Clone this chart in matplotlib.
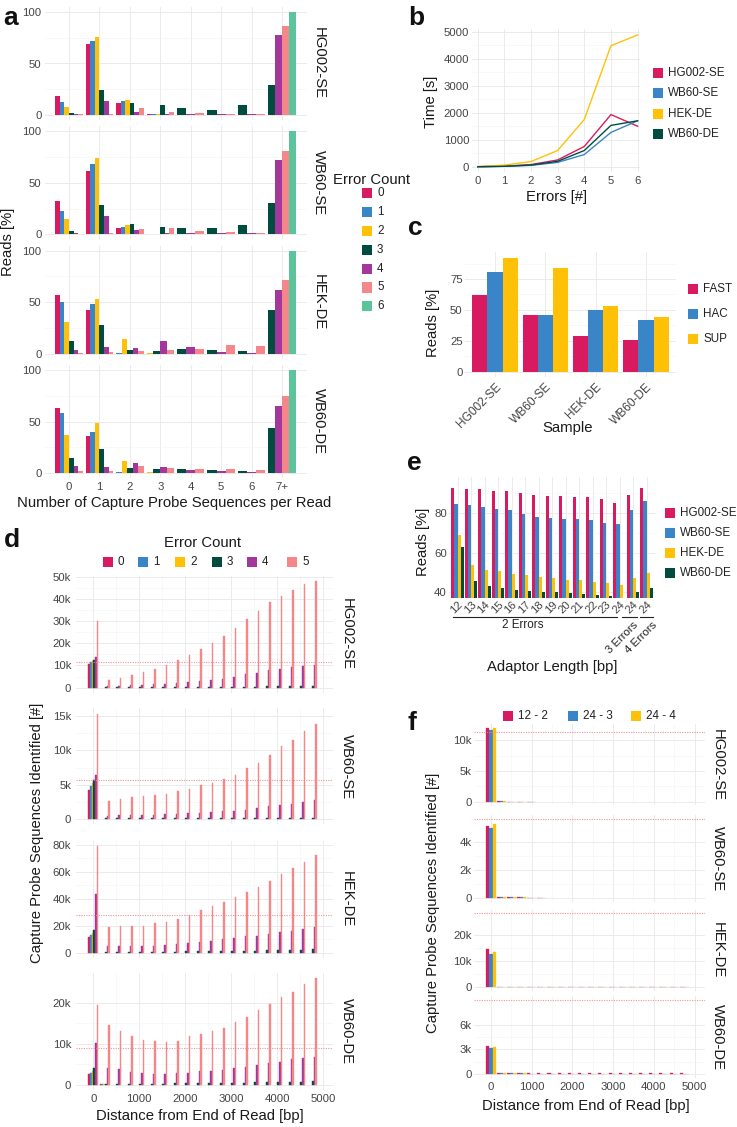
import matplotlib
matplotlib.use('Agg')
import matplotlib.pyplot as plt
from matplotlib.patches import Rectangle
from matplotlib.transforms import blended_transform_factory

W, H = 737, 1127
plt.rcParams['font.family'] = ['Liberation Sans', 'DejaVu Sans']
fig = plt.figure(figsize=(W / 100, H / 100), dpi=100)

COL = ['#D81B60', '#3A85C8', '#FFC107', '#004D40', '#A4379C', '#F4878A', '#5CC49A']
GRID_MAJ = '#EBEBEB'
GRID_MIN = '#F4F4F4'
TICK_C = '#444444'
TXT = '#1A1A1A'
TICK_FS = 8.2
TITLE_FS = 10.7
LEG_FS = 8.4
STRIP_FS = 10.7

# ---------------- DATA ----------------
samples = ['HG002-SE', 'WB60-SE', 'HEK-DE', 'WB60-DE']

# Panel a: % reads per number of capture probe sequences, per error count
a_categories = ['0', '1', '2', '3', '4', '5', '6', '7+']
a_error_counts = ['0', '1', '2', '3', '4', '5', '6']
a_hg002 = [
    [18, 69, 12, 1, 0, 0, 0, 0],
    [13, 72, 14, 1, 0, 0, 0, 0],
    [8, 76, 15, 1, 0, 0, 0, 0],
    [2, 24, 12, 10, 7, 5, 10, 29],
    [1, 14, 3, 0.5, 1, 1, 1, 78],
    [0.5, 0.5, 7, 3, 2, 1, 1, 86],
    [0, 0, 0, 0, 0, 0, 0, 100],
]
a_wb60se = [
    [32, 61, 6, 0.5, 0, 0, 0, 0],
    [23, 68, 7, 0.5, 0, 0, 0, 0],
    [15, 74, 9, 0.5, 0, 0, 0, 0],
    [3, 28, 10, 7, 6, 6, 9, 30],
    [1, 18, 4, 1, 1.5, 1, 1, 72],
    [0.5, 1, 5, 6, 3, 2, 1, 81],
    [0, 0, 0, 0, 0, 0, 0, 100],
]
a_hek = [
    [57, 42, 0, 0, 0, 0, 0, 0],
    [50, 48, 1, 0, 0, 0, 0, 0],
    [31, 53, 14, 0.3, 0, 0, 0, 0],
    [12, 28, 4, 3, 4.5, 4, 3, 42],
    [4, 6.5, 5.5, 12, 6.5, 2, 1, 62],
    [0.6, 1.3, 2.3, 4, 5, 8.5, 7, 72],
    [0, 0, 0, 0, 0, 0, 0, 100],
]
a_wb60de = [
    [63, 36, 0, 0, 0, 0, 0, 0],
    [58, 40, 1, 0, 0, 0, 0, 0],
    [37, 49, 12, 0.5, 0, 0, 0, 0],
    [15, 23, 5, 4, 3.5, 3, 2, 44],
    [7, 6, 10, 5.5, 3, 2, 1, 65],
    [2, 2, 7, 5, 3.5, 4, 2.5, 75],
    [0, 0, 0, 0, 0, 0, 0, 100],
]
a_data = [a_hg002, a_wb60se, a_hek, a_wb60de]

# Panel b: run time vs errors
b_errors = [0, 1, 2, 3, 4, 5, 6]
b_hg002 = [0, 20, 80, 250, 750, 1930, 1500]
b_wb60se = [0, 15, 50, 160, 450, 1270, 1700]
b_hek = [0, 60, 190, 600, 1750, 4480, 4880]
b_wb60de = [0, 15, 60, 200, 600, 1530, 1700]
b_times = [b_hg002, b_wb60se, b_hek, b_wb60de]

# Panel c: reads per basecalling model
c_models = ['FAST', 'HAC', 'SUP']
c_fast = [62, 46, 29, 26]
c_hac = [81, 46, 50, 42]
c_sup = [92, 84, 53, 44]

# Panel e: reads per adaptor length
e_lengths = ['12', '13', '14', '15', '16', '17', '18', '19', '20', '21', '22', '23', '24', '24', '24']
e_hg002 = [92.3, 92.1, 91.8, 91.1, 90.8, 90.1, 89.1, 88.4, 88.3, 88.1, 87.8, 87.1, 84.8, 89.1, 92.3]
e_wb60se = [84.4, 83.7, 83.0, 81.7, 81.2, 79.5, 78.0, 77.2, 76.8, 76.7, 76.3, 74.7, 74.5, 81.4, 85.9]
e_hek = [68.8, 53.7, 51.2, 50.7, 49.2, 48.5, 47.7, 47.2, 46.3, 46.0, 45.3, 44.8, 43.5, 47.2, 49.8]
e_wb60de = [62.9, 45.8, 43.3, 42.3, 41.3, 40.8, 40.3, 40.0, 39.5, 39.1, 38.6, 38.3, 37.0, 40.1, 42.3]
e_values = [e_hg002, e_wb60se, e_hek, e_wb60de]

# Panels d / f: distance bins (bp)
bins = [0, 250, 500, 750, 1000, 1250, 1500, 1750, 2000, 2250,
        2500, 2750, 3000, 3250, 3500, 3750, 4000, 4250, 4500, 4750]
ref_lines = [11.4, 5.65, 28.1, 9.0]  # thousands

# Panel d: counts (thousands) per error count 0..5
d_hg002 = [
    [10.8, 0, 0, 0, 0, 0, 0, 0, 0, 0, 0, 0, 0, 0, 0, 0, 0, 0, 0, 0],
    [11.5, 0, 0, 0, 0, 0, 0, 0, 0, 0, 0, 0, 0, 0, 0, 0, 0, 0, 0, 0],
    [12.1, 0, 0, 0, 0, 0, 0, 0, 0, 0, 0, 0, 0, 0, 0, 0, 0, 0, 0, 0],
    [12.6, 0.1, 0.1, 0.1, 0.15, 0.2, 0.2, 0.25, 0.3, 0.3, 0.35, 0.4, 0.4, 0.5, 0.5, 0.6, 0.6, 0.7, 0.7, 0.8],
    [13.9, 0.8, 0.9, 1.1, 1.2, 1.5, 1.8, 2.3, 2.6, 3.0, 3.6, 4.1, 5.0, 6.1, 6.8, 8.0, 8.4, 9.1, 9.6, 10.0],
    [29.9, 3.5, 4.5, 5.6, 7.1, 8.6, 10.3, 12.6, 14.9, 17.6, 20.3, 23.2, 27.0, 30.8, 34.4, 38.4, 41.2, 44.0, 46.5, 48.0],
]
d_wb60se = [
    [4.2, 0, 0, 0, 0, 0, 0, 0, 0, 0, 0, 0, 0, 0, 0, 0, 0, 0, 0, 0],
    [4.8, 0, 0, 0, 0, 0, 0, 0, 0, 0, 0, 0, 0, 0, 0, 0, 0, 0, 0, 0],
    [5.2, 0, 0, 0, 0, 0, 0, 0, 0, 0, 0, 0, 0, 0, 0, 0, 0, 0, 0, 0],
    [5.7, 0.05, 0.05, 0.05, 0.05, 0.05, 0.06, 0.07, 0.08, 0.09, 0.1, 0.1, 0.11, 0.12, 0.13, 0.14, 0.15, 0.16, 0.17, 0.18],
    [6.4, 0.39, 0.54, 0.54, 0.54, 0.54, 0.64, 0.64, 0.79, 0.88, 0.98, 1.07, 1.17, 1.3, 1.6, 1.8, 2.0, 2.2, 2.5, 2.7],
    [15.4, 2.6, 2.9, 3.2, 3.4, 3.45, 3.6, 4.0, 4.4, 4.9, 5.2, 5.8, 6.4, 7.4, 8.2, 9.3, 10.6, 11.6, 12.8, 13.9],
]
d_hek = [
    [11.4, 0, 0, 0, 0, 0, 0, 0, 0, 0, 0, 0, 0, 0, 0, 0, 0, 0, 0, 0],
    [12.9, 0, 0, 0, 0, 0, 0, 0, 0, 0, 0, 0, 0, 0, 0, 0, 0, 0, 0, 0],
    [14.4, 0, 0, 0, 0, 0, 0, 0, 0, 0, 0, 0, 0, 0, 0, 0, 0, 0, 0, 0],
    [16.6, 0.5, 0.5, 0.5, 0.6, 0.6, 0.7, 0.8, 0.9, 1.0, 1.1, 1.2, 1.3, 1.4, 1.6, 1.7, 1.9, 2.0, 2.2, 2.4],
    [43.6, 5.0, 5.0, 5.0, 5.0, 5.0, 5.7, 6.2, 7.2, 7.9, 8.9, 9.9, 10.9, 12.2, 12.7, 13.9, 15.4, 16.4, 17.6, 19.3],
    [78.8, 18.8, 19.8, 19.8, 20.1, 21.8, 23.1, 24.8, 28.0, 31.5, 34.7, 37.4, 41.1, 45.1, 48.6, 53.0, 58.0, 62.4, 67.4, 72.1],
]
d_wb60de = [
    [2.7, 0.1, 0, 0, 0, 0, 0, 0, 0, 0, 0, 0, 0, 0, 0, 0, 0, 0, 0, 0],
    [3.0, 0.1, 0, 0, 0, 0, 0, 0, 0, 0, 0, 0, 0, 0, 0, 0, 0, 0, 0, 0],
    [3.3, 0.1, 0, 0, 0, 0, 0, 0, 0, 0, 0, 0, 0, 0, 0, 0, 0, 0, 0, 0],
    [4.0, 0.3, 0.3, 0.3, 0.3, 0.3, 0.3, 0.35, 0.4, 0.4, 0.45, 0.5, 0.5, 0.55, 0.6, 0.65, 0.7, 0.75, 0.8, 0.85],
    [10.2, 4.1, 3.8, 3.1, 2.8, 2.6, 2.6, 2.8, 3.0, 3.4, 3.4, 3.6, 4.1, 4.3, 4.8, 5.3, 5.6, 6.2, 6.6, 6.9],
    [19.4, 14.6, 13.2, 11.9, 10.9, 10.6, 10.5, 10.8, 11.9, 12.4, 13.1, 13.9, 15.4, 16.6, 18.3, 19.8, 21.3, 22.6, 24.5, 26.0],
]
d_data = [d_hg002, d_wb60se, d_hek, d_wb60de]
d_ticks = [[0, 10, 20, 30, 40, 50], [0, 5, 10, 15], [0, 20, 40, 60, 80], [0, 10, 20]]

# Panel f: counts (thousands) per adaptor setting
f_settings = ['12 - 2', '24 - 3', '24 - 4']
f_hg002 = [
    [12.05, 0.05, 0.02, 0.01, 0.01, 0, 0, 0, 0, 0, 0, 0, 0, 0, 0, 0, 0, 0, 0, 0],
    [11.7, 0.05, 0.02, 0.01, 0.01, 0, 0, 0, 0, 0, 0, 0, 0, 0, 0, 0, 0, 0, 0, 0],
    [12.05, 0.05, 0.02, 0.01, 0.01, 0, 0, 0, 0, 0, 0, 0, 0, 0, 0, 0, 0, 0, 0, 0],
]
f_wb60se = [
    [5.14, 0.05, 0.03, 0.02, 0.01, 0.01, 0, 0, 0, 0, 0, 0, 0, 0, 0, 0, 0, 0, 0, 0],
    [4.98, 0.05, 0.03, 0.02, 0.01, 0.01, 0, 0, 0, 0, 0, 0, 0, 0, 0, 0, 0, 0, 0, 0],
    [5.26, 0.05, 0.03, 0.02, 0.01, 0.01, 0, 0, 0, 0, 0, 0, 0, 0, 0, 0, 0, 0, 0, 0],
]
f_hek = [
    [14.5, 0.3, 0.3, 0.3, 0.3, 0.3, 0.3, 0.3, 0.3, 0.3, 0.3, 0.3, 0.3, 0.3, 0.3, 0.3, 0.3, 0.3, 0.3, 0.3],
    [12.7, 0.2, 0.1, 0.05, 0.05, 0.03, 0.03, 0.02, 0.02, 0.02, 0.02, 0.02, 0.02, 0.02, 0.02, 0.02, 0.02, 0.02, 0.02, 0.02],
    [13.5, 0.2, 0.1, 0.05, 0.05, 0.03, 0.03, 0.02, 0.02, 0.02, 0.02, 0.02, 0.02, 0.02, 0.02, 0.02, 0.02, 0.02, 0.02, 0.02],
]
f_wb60de = [
    [3.42, 0.2, 0.2, 0.15, 0.15, 0.15, 0.15, 0.15, 0.15, 0.15, 0.15, 0.15, 0.15, 0.15, 0.15, 0.15, 0.15, 0.15, 0.15, 0.15],
    [3.14, 0.2, 0.2, 0.1, 0.05, 0.05, 0.03, 0.03, 0.02, 0.02, 0.02, 0.02, 0.02, 0.02, 0.02, 0.02, 0.02, 0.02, 0.02, 0.02],
    [3.26, 0.2, 0.15, 0.1, 0.05, 0.05, 0.03, 0.03, 0.02, 0.02, 0.02, 0.02, 0.02, 0.02, 0.02, 0.02, 0.02, 0.02, 0.02, 0.02],
]
f_data = [f_hg002, f_wb60se, f_hek, f_wb60de]
f_ticks = [[0, 5, 10], [0, 2, 4], [0, 10, 20], [0, 3, 6]]
dist_ticks = [0, 1000, 2000, 3000, 4000, 5000]


# ---------------- HELPERS ----------------
def px_axes(x0, y0, x1, y1):
    ax = fig.add_axes([x0 / W, 1 - y1 / H, (x1 - x0) / W, (y1 - y0) / H])
    for s in ax.spines.values():
        s.set_visible(False)
    ax.set_axisbelow(True)
    ax.tick_params(which='both', length=0, labelsize=TICK_FS, labelcolor=TICK_C)
    ax.patch.set_alpha(0)
    return ax


def set_grid(ax):
    ax.grid(True, which='major', color=GRID_MAJ, lw=0.7)
    ax.grid(True, which='minor', color=GRID_MIN, lw=0.45)


def px_text(x, y, s, **kw):
    kw.setdefault('color', TXT)
    return fig.text(x / W, 1 - y / H, s, **kw)


def key(x, y, color, label, size=10, fs=LEG_FS):
    fig.add_artist(Rectangle((x / W, 1 - (y + size / 2) / H), size / W, size / H,
                             transform=fig.transFigure, facecolor=color, edgecolor='none'))
    px_text(x + size + 5, y, label, fontsize=fs, va='center', ha='left', color='#222222')


def panel_label(x, y, s):
    px_text(x, y, s, fontsize=19, fontweight='bold', va='baseline', ha='left', color='#111111')


def kfmt(v):
    return '0' if v == 0 else f'{v:g}k'


def dodge_present(ax, series, colors, width=0.9):
    ncat = len(series[0])
    for ci in range(ncat):
        present = [(si, s[ci]) for si, s in enumerate(series) if s[ci] > 0]
        n = len(present)
        if n == 0:
            continue
        bw = width / n
        for j, (si, v) in enumerate(present):
            ax.bar(ci - width / 2 + bw * (j + 0.5), v, width=bw, color=colors[si], linewidth=0)


def dodge_fixed(ax, x, series, colors, total, edge=0.0):
    n = len(series)
    bw = total / n
    for j, vals in enumerate(series):
        xs = [xi - total / 2 + bw * (j + 0.5) for xi, v in zip(x, vals) if v > 0]
        vs = [v for v in vals if v > 0]
        ax.bar(xs, vs, width=bw, color=colors[j],
               edgecolor=colors[j] if edge > 0 else 'none', linewidth=edge)


# ---------------- PANEL A ----------------
a_zero = [115.0, 234.3, 353.7, 473.0]
A_PX = 1.03
for i, samp in enumerate(samples):
    z = a_zero[i]
    ax = px_axes(45, z - 105 * A_PX, 307, z + 5 * A_PX)
    dodge_present(ax, a_data[i], COL)
    ax.set_xlim(-0.79, 7.82)
    ax.set_ylim(-5, 105)
    ax.set_xticks(range(len(a_categories)))
    ax.set_yticks([0, 50, 100])
    ax.set_yticks([25, 75], minor=True)
    set_grid(ax)
    ax.tick_params(axis='y', pad=2.6)
    ax.tick_params(axis='x', pad=3.0)
    if i == 3:
        ax.set_xticklabels(a_categories)
    else:
        ax.set_xticklabels([])
    px_text(319, z - 50 * A_PX, samp, rotation=-90, fontsize=STRIP_FS, ha='center', va='center')

px_text(8, 242, 'Reads [%]', rotation=90, fontsize=TITLE_FS, ha='center', va='center')
px_text(174, 503, 'Number of Capture Probe Sequences per Read', fontsize=TITLE_FS, ha='center', va='center')
px_text(333, 180, 'Error Count', fontsize=TITLE_FS, ha='left', va='center')
for j, lab in enumerate(a_error_counts):
    key(362, 193 + j * 18.9, COL[j], lab)
panel_label(3, 25, 'a')

# ---------------- PANEL B ----------------
ax = px_axes(472, 28.5, 640, 172)
for j, vals in enumerate(b_times):
    ax.plot(b_errors, vals, color=COL[j], lw=1.0)
ax.set_xlim(-0.215, 6.09)
ax.set_ylim(-196, 5118)
ax.set_xticks(b_errors)
ax.set_yticks([0, 1000, 2000, 3000, 4000, 5000])
ax.set_yticks([500, 1500, 2500, 3500, 4500], minor=True)
set_grid(ax)
ax.tick_params(axis='y', pad=2.0)
ax.tick_params(axis='x', pad=3.0)
px_text(431, 102, 'Time [s]', rotation=90, fontsize=TITLE_FS, ha='center', va='center')
px_text(557, 197, 'Errors [#]', fontsize=TITLE_FS, ha='center', va='center')
for j, lab in enumerate(samples):
    key(653, 73 + j * 20.3, COL[j], lab)
panel_label(408, 25, 'b')

# ---------------- PANEL C ----------------
ax = px_axes(464.8, 252.3, 676.2, 377.4)
dodge_fixed(ax, list(range(len(samples))), [c_fast, c_hac, c_sup], COL[:3], 0.9)
ax.set_xlim(-0.6, 3.6)
ax.set_ylim(-4.6, 96.6)
ax.set_xticks(range(len(samples)))
ax.set_xticklabels(samples)
plt.setp(ax.get_xticklabels(), rotation=45, ha='right', va='top', rotation_mode='anchor', fontsize=8.6)
ax.set_yticks([0, 25, 50, 75])
ax.set_yticks([12.5, 37.5, 62.5, 87.5], minor=True)
set_grid(ax)
ax.tick_params(axis='y', pad=1.5)
ax.tick_params(axis='x', pad=2.5)
px_text(433, 323, 'Reads [%]', rotation=90, fontsize=TITLE_FS, ha='center', va='center')
px_text(568, 428, 'Sample', fontsize=TITLE_FS, ha='center', va='center')
for j, lab in enumerate(c_models):
    key(688, 289 + j * 25, COL[j], lab)
panel_label(408, 235, 'c')

# ---------------- PANEL E ----------------
ax = px_axes(449.4, 477.4, 654.6, 597.8)
dodge_fixed(ax, list(range(len(e_lengths))), e_values, COL[:4], 0.9)
ax.set_xlim(-0.6, 14.6)
ax.set_ylim(37.25, 97.75)
ax.set_xticks(range(len(e_lengths)))
ax.set_xticklabels(e_lengths)
plt.setp(ax.get_xticklabels(), rotation=45, ha='right', va='top', rotation_mode='anchor', fontsize=8.2)
ax.set_yticks([40, 60, 80])
ax.set_yticks([50, 70, 90], minor=True)
set_grid(ax)
ax.tick_params(axis='y', pad=1.8)
ax.tick_params(axis='x', pad=1.0)
tr = blended_transform_factory(ax.transData, ax.transAxes)
yb = -(617 - 597.8) / 120.4
for (xa, xb) in [(-0.31, 11.79), (12.19, 13.3), (13.52, 14.48)]:
    ax.plot([xa, xb], [yb, yb], transform=tr, color='#222222', lw=0.8, clip_on=False)
ax.text(4.8, yb - 0.02, '2 Errors', transform=tr, ha='center', va='top', fontsize=8.4, color='#222222')
ax.text(13.0, yb - 0.02, '3 Errors', transform=tr, ha='right', va='top', rotation=45,
        rotation_mode='anchor', fontsize=8.2, color='#222222')
ax.text(14.4, yb - 0.02, '4 Errors', transform=tr, ha='right', va='top', rotation=45,
        rotation_mode='anchor', fontsize=8.2, color='#222222')
px_text(423, 542, 'Reads [%]', rotation=90, fontsize=TITLE_FS, ha='center', va='center')
px_text(552, 667, 'Adaptor Length [bp]', fontsize=TITLE_FS, ha='center', va='center')
for j, lab in enumerate(samples):
    key(665, 513 + j * 20, COL[j], lab)
panel_label(407, 470, 'e')

# ---------------- PANEL D ----------------
d_boxes = [(575.7, 693.0), (708.3, 824.0), (841.0, 958.0), (972.8, 1090.2)]
for i, samp in enumerate(samples):
    top, bot = d_boxes[i]
    ax = px_axes(76, top, 333, bot)
    dodge_fixed(ax, bins, d_data[i], COL[:6], 225, edge=0.3)
    m = max(max(s) for s in d_data[i])
    ax.set_ylim(-0.05 * m, 1.05 * m)
    ax.set_xlim(-376, 5211)
    ax.axhline(ref_lines[i], color=COL[5], lw=0.8, ls=(0, (1, 1.2)), alpha=0.9, zorder=1)
    ax.set_yticks(d_ticks[i])
    ax.set_yticklabels([kfmt(v) for v in d_ticks[i]])
    ax.set_yticks([(a + b) / 2 for a, b in zip(d_ticks[i][:-1], d_ticks[i][1:])], minor=True)
    ax.set_xticks(dist_ticks)
    ax.set_xticks([500, 1500, 2500, 3500, 4500], minor=True)
    set_grid(ax)
    ax.tick_params(axis='y', pad=3.5)
    ax.tick_params(axis='x', pad=3.0)
    if i == 3:
        ax.set_xticklabels([str(v) for v in dist_ticks])
    else:
        ax.set_xticklabels([])
    px_text(347, (top + bot) / 2, samp, rotation=-90, fontsize=STRIP_FS, ha='center', va='center')

px_text(37, 833, 'Capture Probe Sequences Identified [#]', rotation=90, fontsize=TITLE_FS,
        ha='center', va='center')
px_text(200, 1116, 'Distance from End of Read [bp]', fontsize=TITLE_FS, ha='center', va='center')
px_text(203, 543, 'Error Count', fontsize=TITLE_FS, ha='center', va='center')
for j, xk in enumerate([103, 138, 175, 212, 247, 287]):
    key(xk, 562, COL[j], a_error_counts[j])
panel_label(4, 547, 'd')

# ---------------- PANEL F ----------------
f_boxes = [(724.0, 805.4), (815.0, 901.6), (909.7, 991.0), (996.0, 1078.0)]
for i, samp in enumerate(samples):
    top, bot = f_boxes[i]
    ax = px_axes(474, top, 705, bot)
    dodge_fixed(ax, bins, f_data[i], COL[:3], 225, edge=0.2)
    m = max(max(max(s) for s in f_data[i]), ref_lines[i])
    ax.set_ylim(-0.05 * m, 1.05 * m)
    ax.set_xlim(-418, 5258)
    ax.axhline(ref_lines[i], color=COL[5], lw=0.8, ls=(0, (1, 1.2)), alpha=0.9, zorder=1)
    ax.set_yticks(f_ticks[i])
    ax.set_yticklabels([kfmt(v) for v in f_ticks[i]])
    ax.set_yticks([(a + b) / 2 for a, b in zip(f_ticks[i][:-1], f_ticks[i][1:])], minor=True)
    ax.set_xticks(dist_ticks)
    ax.set_xticks([500, 1500, 2500, 3500, 4500], minor=True)
    set_grid(ax)
    ax.tick_params(axis='y', pad=1.5)
    ax.tick_params(axis='x', pad=3.0)
    if i == 3:
        ax.set_xticklabels([str(v) for v in dist_ticks])
    else:
        ax.set_xticklabels([])
    px_text(718, (top + bot) / 2, samp, rotation=-90, fontsize=STRIP_FS, ha='center', va='center')

px_text(433, 903, 'Capture Probe Sequences Identified [#]', rotation=90, fontsize=TITLE_FS,
        ha='center', va='center')
px_text(586, 1106, 'Distance from End of Read [bp]', fontsize=TITLE_FS, ha='center', va='center')
for j, xk in enumerate([503, 568, 631]):
    key(xk, 716, COL[j], f_settings[j])
panel_label(407, 730, 'f')

fig.savefig('out.png', dpi=100, facecolor='white')
